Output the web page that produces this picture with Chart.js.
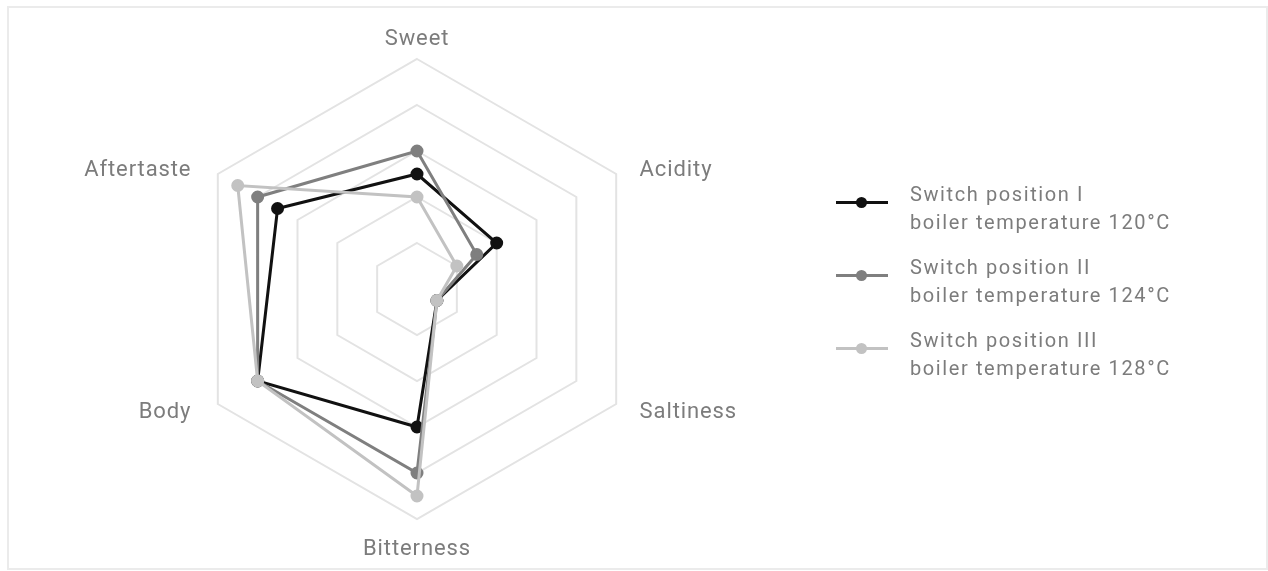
<!DOCTYPE html>
<html lang="en">
<head>
  <meta charset="UTF-8" />
  <title>Taste profile</title>
  <script src="https://cdn.jsdelivr.net/npm/chart.js"></script>
  <style>
    html, body { margin: 0; padding: 0; background: #fff; }
    .wrap { position: relative; width: 1268px; height: 571px; overflow: hidden; }
    .frame { position: absolute; left: 7px; top: 6px; width: 1257px; height: 560px; border: 2px solid #ebebeb; }
    canvas { position: absolute; left: 0; top: 0; }
    .legend { position: absolute; left: 836px; top: 180px; font-family: Roboto, sans-serif; font-size: 20px; letter-spacing: 1.6px; color: #7c7c7c; }
    .legend .item { position: relative; height: 73px; padding-left: 74px; line-height: 28px; }
    .legend .swatch { position: absolute; left: 0; top: 21px; width: 52px; height: 3px; }
    .legend .dot { position: absolute; left: 20px; top: -4px; width: 11px; height: 11px; border-radius: 50%; }
  </style>
</head>
<body>
  <div class="wrap">
    <div class="frame"></div>
    <canvas id="radar" width="1268" height="571"></canvas>
    <div class="legend" id="legend"></div>
  </div>

  <script>
    const labels = ["Sweet", "Acidity", "Saltiness", "Bitterness", "Body", "Aftertaste"];
    const position1 = [2.5, 2, 0.5, 3, 4, 3.5];
    const position2 = [3, 1.5, 0.5, 4, 4, 4];
    const position3 = [2, 1, 0.5, 4.5, 4, 4.5];
    const seriesNames = [
      ["Switch position I", "boiler temperature 120°C"],
      ["Switch position II", "boiler temperature 124°C"],
      ["Switch position III", "boiler temperature 128°C"]
    ];
    const seriesColors = ["#111111", "#7f7f7f", "#c2c2c2"];

    // point labels drawn by hand so the radius stays fixed
    const pointLabelPlugin = {
      id: "pointLabelText",
      afterDraw(chart) {
        const r = chart.scales.r;
        const ctx = chart.ctx;
        ctx.save();
        ctx.font = "22px Roboto, sans-serif";
        ctx.letterSpacing = "0.9px";
        ctx.fillStyle = "#7c7c7c";
        ctx.textBaseline = "middle";
        labels.forEach((text, i) => {
          const side = Math.abs(r.getPointPosition(i, 100).x - r.xCenter) > 1;
          const p = r.getPointPosition(i, r.drawingArea + (side ? 12 : 25));
          const dx = p.x - r.xCenter;
          if (!side) {
            ctx.textAlign = "center";
            ctx.fillText(text, p.x, p.y + 5);
          } else {
            ctx.textAlign = dx > 0 ? "left" : "right";
            ctx.fillText(text, p.x + (dx > 0 ? 13 : -16), p.y + 2);
          }
        });
        ctx.restore();
      }
    };

    const sets = [position1, position2, position3].map((data, i) => ({
      label: seriesNames[i].join(" "),
      data: data,
      borderColor: seriesColors[i],
      backgroundColor: seriesColors[i],
      pointBackgroundColor: seriesColors[i],
      pointBorderColor: seriesColors[i],
      borderWidth: 3,
      pointRadius: 5,
      fill: false,
      order: 2 - i
    }));

    new Chart(document.getElementById("radar"), {
      type: "radar",
      data: { labels: labels, datasets: sets },
      options: {
        responsive: false,
        animation: false,
        layout: { padding: { left: 187, right: 621, top: 59, bottom: 52 } },
        plugins: { legend: { display: false }, tooltip: { enabled: false } },
        elements: { line: { tension: 0 } },
        scales: {
          r: {
            min: 0,
            max: 5,
            ticks: { display: false, stepSize: 1 },
            angleLines: { display: false },
            grid: { color: "#e3e3e3", lineWidth: 2 },
            pointLabels: { display: false }
          }
        }
      },
      plugins: [pointLabelPlugin]
    });

    // html legend
    const legendBox = document.getElementById("legend");
    seriesNames.forEach((lines, i) => {
      const item = document.createElement("div");
      item.className = "item";
      item.innerHTML = '<span class="swatch" style="background:' + seriesColors[i] + '"><span class="dot" style="background:' + seriesColors[i] + '"></span></span>' + lines.join("<br>");
      legendBox.appendChild(item);
    });
  </script>
</body>
</html>
